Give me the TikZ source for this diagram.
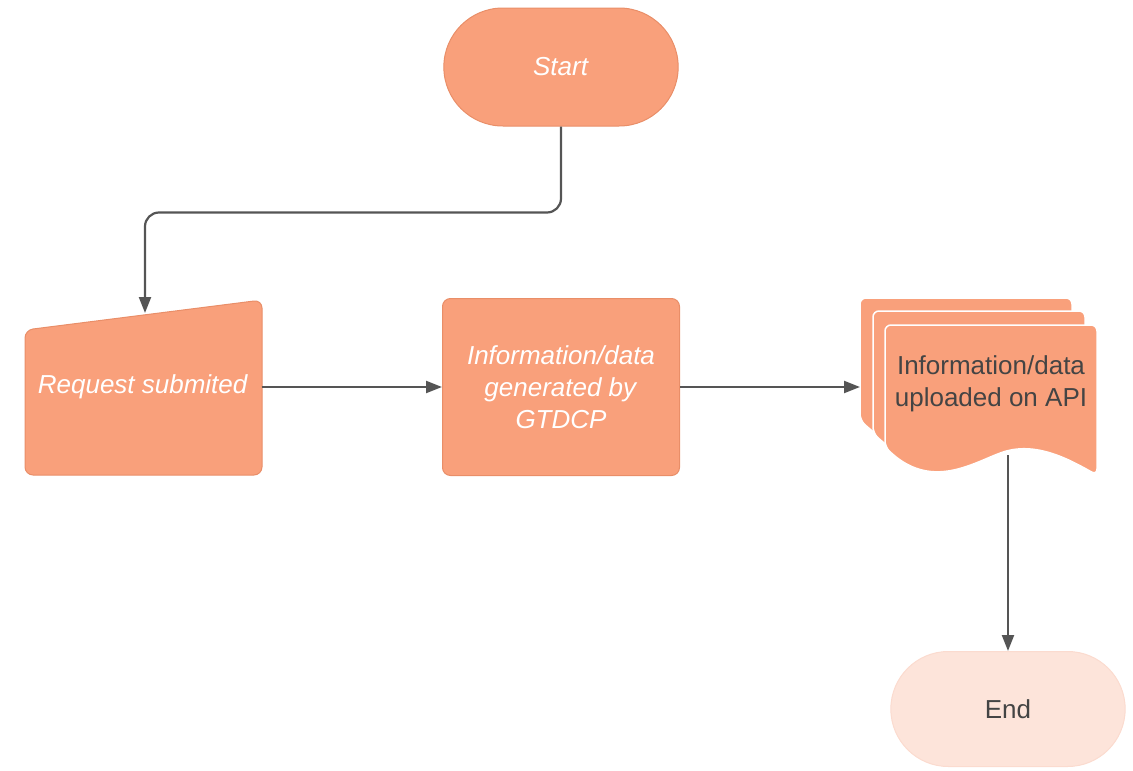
\documentclass[tikz,border=0pt]{standalone}
\usepackage{fontspec}
\setmainfont{Liberation Sans}
\usetikzlibrary{shapes.misc,arrows.meta}
\definecolor{boxfill}{HTML}{F9A07B}
\definecolor{boxline}{HTML}{E98E68}
\definecolor{endfill}{HTML}{FDE4DA}
\definecolor{flowline}{HTML}{555555}
\definecolor{darktext}{HTML}{444444}
\newcommand{\docpage}[2]{%
  \filldraw[fill=boxfill,draw=white,line width=1.5pt,rounded corners=6pt,shift={(#1,#2)}]
    (0,122) -- (0,0) -- (212,0) -- (212,150)
    .. controls (185,135) and (150,115) .. (110,130)
    .. controls (75,145) and (40,160) .. (0,122) -- cycle;}

\begin{document}
\begin{tikzpicture}[x=1pt,y=-1pt,
    every node/.style={font=\fontsize{26}{32}\selectfont},
    flow/.style={draw=flowline,line width=2.2pt,-{Triangle[length=16pt,width=12pt]}}]
  \useasboundingbox (0,0) rectangle (1133,771);

  %start and end
  \node[rounded rectangle,fill=boxfill,draw=boxline,line width=1pt,text=white,
    minimum width=241pt,minimum height=118pt] (start) at (561,67) {\textit{Start}};
  \node[rounded rectangle,fill=endfill,draw=endfill!90!boxline,line width=1pt,text=darktext,
    minimum width=241pt,minimum height=115pt] (end) at (1008,709) {End};

  %manual input
  \filldraw[fill=boxfill,draw=boxline,line width=1pt,rounded corners=8pt]
    (25,475) -- (25,330) -- (262,300) -- (262,475) -- cycle;
  \node[text=white,minimum width=237pt,minimum height=175pt] (req) at (143,387) {\textit{Request submited}};
  \coordinate (reqtop) at (145,313);

  %process
  \node[fill=boxfill,draw=boxline,line width=1pt,rounded corners=8pt,text=white,align=center,
    minimum width=237pt,minimum height=177pt] (proc) at (561,387)
    {\textit{Information/data}\\\textit{generated by}\\\textit{GTDCP}};

  %stacked documents
  \docpage{860}{298}
  \docpage{873}{311}
  \docpage{885}{325}
  \node[text=darktext,align=center] (doc) at (991,384) {Information/data\\uploaded on API};
  \coordinate (docin) at (860,387);
  \coordinate (docout) at (1008,455);

  %connectors
  \draw[flow,rounded corners=14pt] (start.south) -- ++(0,86) -| (reqtop);
  \draw[flow] (req.east) -- (proc.west);
  \draw[flow] (proc.east) -- (docin);
  \draw[flow] (docout) -- (end.north);
\end{tikzpicture}
\end{document}
